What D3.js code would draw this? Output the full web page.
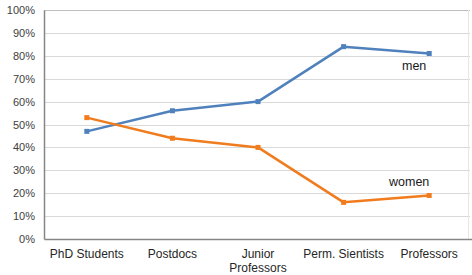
<!DOCTYPE html>
<html><head><meta charset="utf-8">
<script src="https://cdn.jsdelivr.net/npm/d3@7"></script>
<style>body{margin:0;background:#fff}svg{display:block}text{font-family:"Liberation Sans",Arial,sans-serif}</style>
</head><body>
<svg id="c" width="472" height="275"></svg>
<script>
const categories = ["PhD Students","Postdocs","Junior Professors","Perm. Sientists","Professors"];
const men = [47, 56, 60, 84, 81];
const women = [53, 44, 40, 16, 19];
const yTicks = [0,10,20,30,40,50,60,70,80,90,100];

const svg = d3.select("#c");
const m = {l:44, r:472, t:10, b:239};
const x = d3.scaleBand().domain(categories).range([m.l, m.r]);
const y = d3.scaleLinear().domain([0,100]).range([m.b, m.t]);

// gridlines
svg.append("g").selectAll("line").data(yTicks.filter(d=>d>0)).join("line")
  .attr("x1", m.l).attr("x2", m.r-2)
  .attr("y1", d=>Math.round(y(d))+0.5).attr("y2", d=>Math.round(y(d))+0.5)
  .attr("stroke", d=>d===100?"#bfbfbf":"#d9d9d9").attr("stroke-width", 1);
svg.append("line").attr("x1", m.r-3.5).attr("x2", m.r-3.5).attr("y1", m.t).attr("y2", m.b)
  .attr("stroke", "#e6e6e6");

// y axis
const ya = svg.append("g").attr("transform", `translate(${m.l},0)`)
  .call(d3.axisLeft(y).tickValues(yTicks).tickFormat(d=>d+"%").tickSize(0).tickPadding(9));
ya.select(".domain").attr("stroke", "#868686").attr("stroke-width", 1.5);
ya.selectAll("text").attr("font-size", 11).attr("fill", "#404040").attr("font-family", "Liberation Sans, Arial, sans-serif");

// x axis
const xa = svg.append("g").attr("transform", `translate(0,${m.b})`)
  .call(d3.axisBottom(x).tickSize(0).tickPadding(0));
xa.select(".domain").attr("stroke", "#868686").attr("stroke-width", 1.5);
xa.selectAll("text").remove();
const xl = svg.append("g");
categories.forEach(c => {
  const parts = c === "Junior Professors" ? ["Junior","Professors"] : [c];
  const t = xl.append("text").attr("x", x(c)+x.bandwidth()/2).attr("y", 258)
    .attr("text-anchor","middle").attr("font-size", 12).attr("fill","#262626");
  parts.forEach((p,i)=> t.append("tspan").attr("x", x(c)+x.bandwidth()/2).attr("dy", i? 14:0).text(p));
});

const cx = c => x(c)+x.bandwidth()/2;
const line = d3.line().x((d,i)=>cx(categories[i])).y(d=>y(d));
const series = [{v:men, c:"#4f81bd", label:"men", lx:402, ly:70},
                {v:women, c:"#f07c1e", label:"women", lx:389, ly:186}];
series.forEach(s => {
  svg.append("path").attr("d", line(s.v)).attr("fill","none").attr("stroke", s.c).attr("stroke-width", 2.5).attr("stroke-linejoin","round");
  svg.append("g").selectAll("rect").data(s.v).join("rect")
    .attr("x",(d,i)=>cx(categories[i])-2.5).attr("y",d=>y(d)-2.5).attr("width",5).attr("height",5).attr("fill", s.c);
  svg.append("text").attr("x", s.lx).attr("y", s.ly).attr("font-size", 12.5).attr("fill","#1a1a1a").text(s.label);
});
</script>
</body></html>
